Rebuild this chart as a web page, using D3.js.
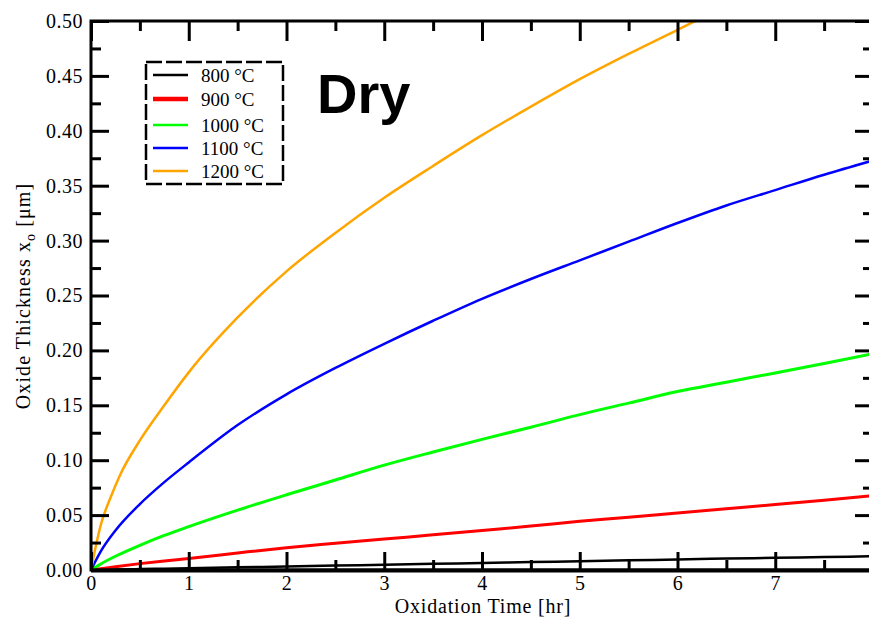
<!DOCTYPE html>
<html>
<head>
<meta charset="utf-8">
<script src="https://cdn.jsdelivr.net/npm/d3@7"></script>
<style>
  body { margin: 0; background: #fff; }
  text { font-family: "Liberation Serif", "DejaVu Serif", serif; }
</style>
</head>
<body>
<svg id="chart"></svg>
<script>
// Oxidation time in hours (shared by most curves)
const hours = [0, 0.1, 0.25, 0.5, 0.75, 1, 1.5, 2, 2.5, 3, 3.5, 4, 4.5, 5, 5.5, 6, 6.5, 7, 7.5, 8];
// the 1200 C curve leaves the top of the plot a bit after 6 hr
const hours1200 = [0, 0.05, 0.1, 0.2, 0.3, 0.5, 0.75, 1, 1.5, 2, 2.5, 3, 3.5, 4, 4.5, 5, 5.5, 6, 6.18];

// oxide thickness in um
const ox800  = [0, 0.0002, 0.0004, 0.0008, 0.0012, 0.0016, 0.0024, 0.0032, 0.004, 0.0048, 0.0056, 0.0064, 0.0072, 0.008, 0.0088, 0.0096, 0.0104, 0.0111, 0.0118, 0.0125];
const ox900  = [0, 0.0012, 0.003, 0.0058, 0.0083, 0.0105, 0.0155, 0.0203, 0.0243, 0.0282, 0.032, 0.036, 0.040, 0.0443, 0.048, 0.052, 0.0558, 0.0596, 0.0636, 0.0678];
const ox1000 = [0, 0.0055, 0.0125, 0.0225, 0.0315, 0.0395, 0.0545, 0.0685, 0.082, 0.0955, 0.1075, 0.119, 0.130, 0.1415, 0.152, 0.1625, 0.171, 0.1795, 0.188, 0.197];
const ox1100 = [0, 0.017, 0.036, 0.060, 0.080, 0.098, 0.132, 0.160, 0.184, 0.206, 0.227, 0.247, 0.265, 0.282, 0.299, 0.316, 0.332, 0.346, 0.360, 0.373];
const ox1200 = [0, 0.022, 0.041, 0.066, 0.087, 0.118, 0.150, 0.180, 0.230, 0.272, 0.307, 0.339, 0.368, 0.396, 0.422, 0.447, 0.470, 0.492, 0.500];

const labels = ["800 °C", "900 °C", "1000 °C", "1100 °C", "1200 °C"];
const colors = ["#000000", "#ff0000", "#00ff00", "#0000ff", "#ffa500"];

const xTicks = [0, 1, 2, 3, 4, 5, 6, 7];
const yTicks = [0, 0.05, 0.1, 0.15, 0.2, 0.25, 0.3, 0.35, 0.4, 0.45, 0.5];

const series = [
  {name: labels[0], color: colors[0], t: hours, v: ox800, w: 2.5, lw: 2.5},
  {name: labels[1], color: colors[1], t: hours, v: ox900, w: 3, lw: 4.5},
  {name: labels[2], color: colors[2], t: hours, v: ox1000, w: 3, lw: 2.5},
  {name: labels[3], color: colors[3], t: hours, v: ox1100, w: 2.5, lw: 2.5},
  {name: labels[4], color: colors[4], t: hours1200, v: ox1200, w: 2.5, lw: 2.5}
];

const W = 869, H = 622;
const plotL = 91, plotT = 21, plotR = 873, plotB = 570;

const svg = d3.select("#chart").attr("width", W).attr("height", H);

const x = d3.scaleLinear().domain([0, 8]).range([plotL, plotR]);
const y = d3.scaleLinear().domain([0, 0.5]).range([plotB, plotT]);

svg.append("clipPath").attr("id", "plot")
  .append("rect").attr("x", plotL).attr("y", plotT)
  .attr("width", plotR - plotL).attr("height", plotB - plotT);

// curves
const line = d3.line().x(d => x(d[0])).y(d => y(d[1])).curve(d3.curveMonotoneX);
svg.append("g").attr("clip-path", "url(#plot)")
  .selectAll("path")
  .data(series)
  .enter().append("path")
  .attr("fill", "none")
  .attr("stroke", d => d.color)
  .attr("stroke-width", d => d.w)
  .attr("d", d => line(d.t.map((t, i) => [t, d.v[i]])));

// axes: major and minor ticks point inwards on all four sides
const xMinor = d3.range(0.5, 8, 1);
const yMinor = d3.range(0.025, 0.5, 0.05);

function styleAxis(g) {
  g.select(".domain").remove();
  g.selectAll(".tick line").attr("stroke", "#000").attr("stroke-width", 3);
  g.selectAll(".tick text").attr("fill", "#000")
    .style("font-family", "'Liberation Serif', serif")
    .style("font-size", "20px").style("letter-spacing", "0.5px");
}

svg.append("g").attr("transform", `translate(0,${plotB})`)
  .call(d3.axisBottom(x).tickValues(xTicks).tickSize(-18).tickPadding(6).tickFormat(d3.format("d")))
  .call(styleAxis);
svg.append("g").attr("transform", `translate(0,${plotB})`)
  .call(d3.axisBottom(x).tickValues(xMinor).tickSize(-10).tickFormat(""))
  .call(styleAxis);
svg.append("g").attr("transform", `translate(0,${plotT})`)
  .call(d3.axisTop(x).tickValues(xTicks.concat([8])).tickSize(-20).tickFormat(""))
  .call(styleAxis);
svg.append("g").attr("transform", `translate(0,${plotT})`)
  .call(d3.axisTop(x).tickValues(xMinor).tickSize(-10).tickFormat(""))
  .call(styleAxis);

svg.append("g").attr("transform", `translate(${plotL},0)`)
  .call(d3.axisLeft(y).tickValues(yTicks).tickSize(-18).tickPadding(8).tickFormat(d3.format(".2f")))
  .call(styleAxis);
svg.append("g").attr("transform", `translate(${plotL},0)`)
  .call(d3.axisLeft(y).tickValues(yMinor).tickSize(-10).tickFormat(""))
  .call(styleAxis);
svg.append("g").attr("transform", `translate(${plotR},0)`)
  .call(d3.axisRight(y).tickValues(yTicks).tickSize(-18).tickFormat(""))
  .call(styleAxis);
svg.append("g").attr("transform", `translate(${plotR},0)`)
  .call(d3.axisRight(y).tickValues(yMinor).tickSize(-10).tickFormat(""))
  .call(styleAxis);

// frame
svg.append("rect")
  .attr("x", plotL).attr("y", plotT)
  .attr("width", plotR - plotL).attr("height", plotB - plotT)
  .attr("fill", "none").attr("stroke", "#000").attr("stroke-width", 3);
svg.append("line")
  .attr("x1", plotL).attr("x2", plotR).attr("y1", plotB + 0.5).attr("y2", plotB + 0.5)
  .attr("stroke", "#000").attr("stroke-width", 4);

// axis titles
svg.append("text")
  .attr("x", 483).attr("y", 613)
  .attr("text-anchor", "middle")
  .style("font-size", "20px").style("letter-spacing", "0.8px")
  .text("Oxidation Time [hr]");

const yTitle = svg.append("text")
  .attr("transform", "translate(30,296) rotate(-90)")
  .attr("text-anchor", "middle")
  .style("font-size", "20px").style("letter-spacing", "1.1px");
yTitle.append("tspan").text("Oxide Thickness x");
yTitle.append("tspan").attr("dy", 5).style("font-size", "14px").text("o");
yTitle.append("tspan").attr("dy", -5).text(" [μm]");

// legend
const legend = svg.append("g");
legend.append("rect")
  .attr("x", 146).attr("y", 62).attr("width", 137).attr("height", 122)
  .attr("fill", "#fff").attr("stroke", "#000").attr("stroke-width", 2.5)
  .attr("stroke-dasharray", "16,4");
const rows = legend.selectAll("g.row")
  .data(series)
  .enter().append("g").attr("class", "row")
  .attr("transform", (d, i) => `translate(0,${[75, 99, 125, 148, 171][i]})`);
rows.append("line")
  .attr("x1", 153).attr("x2", 188)
  .attr("stroke", d => d.color).attr("stroke-width", d => d.lw);
rows.append("text")
  .attr("x", 201).attr("dy", "0.35em")
  .style("font-size", "19px")
  .text(d => d.name);

// panel label
svg.append("text")
  .attr("x", 317).attr("y", 113)
  .style("font-family", "'Liberation Sans', Arial, sans-serif")
  .style("font-weight", "bold").style("font-size", "56px")
  .text("Dry");
</script>
</body>
</html>
